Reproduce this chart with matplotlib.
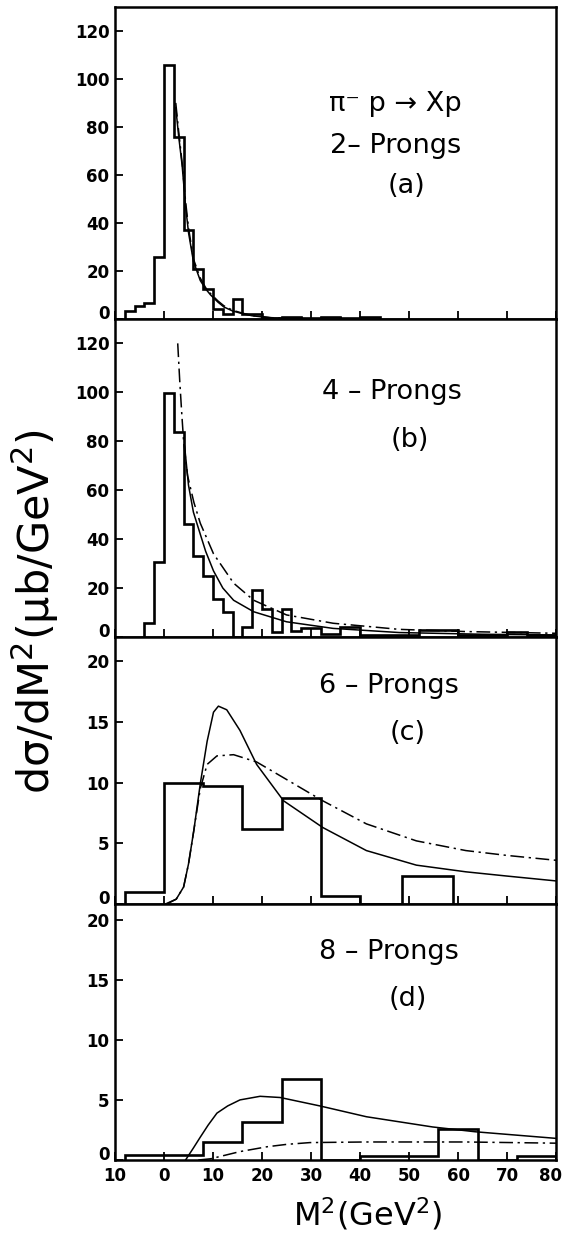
import numpy as np
import matplotlib
matplotlib.use("Agg")
import matplotlib.pyplot as plt
import matplotlib.transforms as mtransforms

# ---------------- data ----------------
# Panel (a): 2-prongs
a_edges = [-8, -6, -4, -2, 0, 2, 4, 6, 8, 10, 12, 14, 16, 18, 20, 22, 24, 26, 28,
           30, 32, 34, 36, 38, 40, 42, 44]
a_vals = [3.3, 5.4, 6.8, 26, 106, 76, 37, 21, 12.4, 4, 2.2, 8.5, 2.2, 2.2, 0.5,
          0.3, 0.8, 0.8, 0.3, 0.3, 0.8, 0.8, 0.2, 0.2, 0.8, 0.8]
a_solid_x = [2.4, 3.0, 3.7, 4.4, 5.0, 6.0, 7.4, 8.5, 9.5, 11.0, 12.2, 14.0, 16.0, 18.0, 22.0, 30.0]
a_solid_y = [88, 76, 64, 47, 36, 24, 16, 12.5, 10, 7, 5, 3.3, 2.2, 1.3, 0.4, 0.0]
a_dash_x = [2.4, 3.0, 3.7, 4.4, 5.0, 6.0, 7.4, 8.5, 9.5, 11.0, 12.2, 14.0, 16.0, 18.0, 22.0, 30.0]
a_dash_y = [90, 78, 65, 49, 38, 25, 17, 13, 10.5, 7.5, 5.5, 3.6, 2.4, 1.4, 0.5, 0.0]

# Panel (b): 4-prongs
b_edges = [-4, -2, 0, 2, 4, 6, 8, 10, 12, 14, 16, 18, 20, 22, 24, 26, 28, 30, 32,
           36, 40, 52, 60, 70, 74, 80]
b_vals = [5.9, 30.7, 99.7, 83.8, 46, 33, 25, 15.5, 10.3, 0, 4.2, 19.2, 11.3, 2.2,
          11.3, 2.6, 3.5, 3.5, 1.2, 4, 0.8, 2.9, 0.8, 2.2, 0.8]
b_solid_x = [4.2, 5.0, 6.0, 7.4, 8.5, 10.1, 12.0, 14.2, 18.3, 25.0, 34.5, 48.0, 65.0, 80.0]
b_solid_y = [78, 62, 51, 42, 35, 27, 20, 15, 10.3, 6.2, 3.5, 1.8, 1.1, 0.8]
b_dash_x = [2.8, 3.2, 3.6, 4.0, 4.8, 6.1, 7.4, 10.1, 14.2, 18.3, 25.0, 34.5, 48.0, 61.6, 80.0]
b_dash_y = [120, 105, 92, 80, 66, 55, 46.5, 34, 22, 15, 9, 5.6, 3.1, 2.2, 1.5]

# Panel (c): 6-prongs
c_edges = [-8, 0, 8, 16, 24, 32, 40, 48.5, 59]
c_vals = [1, 10, 9.7, 6.2, 8.7, 0.66, 0, 2.3]
c_solid_x = [0.6, 2.5, 4.0, 5.0, 6.1, 7.4, 8.8, 10.1, 11.1, 12.8, 15.5, 18.9, 24.4,
             32.4, 41.3, 51.5, 61.6, 70.0, 80.0]
c_solid_y = [0, 0.4, 1.4, 3.3, 6.1, 9.9, 13.4, 15.8, 16.3, 16.0, 14.3, 11.5, 8.5,
             6.3, 4.4, 3.2, 2.65, 2.3, 1.9]
c_dash_x = [0.3, 2.5, 4.0, 5.0, 6.1, 7.4, 8.8, 10.8, 14.2, 18.9, 24.4, 32.4, 41.3,
            51.5, 61.6, 70.0, 80.0]
c_dash_y = [0, 0.4, 1.4, 3.3, 6.1, 9.5, 11.5, 12.2, 12.3, 11.7, 10.4, 8.5, 6.6,
            5.2, 4.4, 4.0, 3.6]

# Panel (d): 8-prongs
d_edges = [-8, 0, 8, 16, 24, 32, 40, 48, 56, 64, 72, 80]
d_vals = [0.4, 0.4, 1.5, 3.2, 6.7, 0, 0.35, 0.35, 2.6, 0, 0.3]
d_solid_x = [4.4, 6.0, 7.4, 9.0, 10.8, 13.0, 15.5, 19.6, 23.7, 31.8, 41.3, 54.8, 63.5, 80.0]
d_solid_y = [0, 1.0, 1.9, 2.9, 3.9, 4.5, 5.0, 5.3, 5.2, 4.5, 3.6, 2.75, 2.35, 1.8]
d_dash_x = [7.0, 9.5, 12.0, 15.5, 21.0, 25.0, 29.8, 41.3, 61.6, 80.0]
d_dash_y = [0, 0.1, 0.35, 0.7, 1.1, 1.3, 1.45, 1.5, 1.5, 1.4]

x_ticks = [-10, 0, 10, 20, 30, 40, 50, 60, 70, 80]
x_tick_labels = ["10", "0", "10", "20", "30", "40", "50", "60", "70", "80"]
a_yticks = [0, 20, 40, 60, 80, 100, 120]
b_yticks = [0, 20, 40, 60, 80, 100, 120]
c_yticks = [0, 5, 10, 15, 20]
d_yticks = [0, 5, 10, 15, 20]

panel_titles = ["2\u2013 Prongs", "4 \u2013 Prongs", "6 \u2013 Prongs", "8 \u2013 Prongs"]
panel_tags = ["(a)", "(b)", "(c)", "(d)"]
reaction = "\u03c0\u207b p \u2192 Xp"

# ---------------- figure ----------------
plt.rcParams['font.family'] = ['DejaVu Sans']
fig = plt.figure(figsize=(5.64, 12.38), dpi=100)

left, width = 0.2039, 0.782
rects = [
    [left, 0.7424, width, 0.2520],
    [left, 0.4855, width, 0.2569],
    [left, 0.2698, width, 0.2157],
    [left, 0.0630, width, 0.2068],
]
ylims = [(0, 130), (0, 130), (0, 22), (0, 21.3)]
yticks = [a_yticks, b_yticks, c_yticks, d_yticks]
hists = [(a_edges, a_vals), (b_edges, b_vals), (c_edges, c_vals), (d_edges, d_vals)]
solids = [(a_solid_x, a_solid_y), (b_solid_x, b_solid_y), (c_solid_x, c_solid_y), (d_solid_x, d_solid_y)]
dashes = [(a_dash_x, a_dash_y), (b_dash_x, b_dash_y), (c_dash_x, c_dash_y), (d_dash_x, d_dash_y)]

title_pos = [(47.3, 72), (46.5, 100), (45.8, 18), (45.8, 17.3)]
tag_pos = [(49.4, 55.4), (50.1, 80.4), (49.7, 14.1), (49.7, 13.4)]
TXT = 19.5

up8 = mtransforms.ScaledTranslation(0, 7 / 100, fig.dpi_scale_trans)
left5 = mtransforms.ScaledTranslation(-6 / 100, 0, fig.dpi_scale_trans)

for i, r in enumerate(rects):
    ax = fig.add_axes(r)
    ax.set_xlim(-10, 80)
    ax.set_ylim(*ylims[i])
    e, v = hists[i]
    ax.stairs(v, e, color='black', linewidth=1.9, baseline=0)
    ax.plot(*solids[i], color='black', linewidth=1.1)
    ax.plot(*dashes[i], color='black', linewidth=1.1, linestyle=(0, (9, 3, 1.5, 3)))
    for s in ax.spines.values():
        s.set_linewidth(1.8)
    ax.set_xticks(x_ticks)
    ax.set_yticks(yticks[i])
    ax.tick_params(axis='both', direction='in', length=6, width=1.3)
    ax.tick_params(axis='y', labelsize=12, pad=4)
    ylabs = ax.get_yticklabels()
    for lab in ylabs:
        lab.set_fontweight('bold')
    ylabs[0].set_transform(ylabs[0].get_transform() + up8)
    if i < 3:
        ax.set_xticklabels([])
    else:
        ax.set_xticklabels(x_tick_labels, fontsize=12, fontweight='bold')
        ax.tick_params(axis='x', pad=5)
        xl = ax.get_xticklabels()
        xl[-1].set_transform(xl[-1].get_transform() + left5)
    tx, ty = title_pos[i]
    ax.text(tx, ty, panel_titles[i], fontsize=TXT, ha='center', va='center')
    gx, gy = tag_pos[i]
    ax.text(gx, gy, panel_tags[i], fontsize=TXT, ha='center', va='center')
    if i == 0:
        ax.text(47.3, 89.5, reaction, fontsize=TXT, ha='center', va='center')

fig.text(0.062, 0.506, "d\u03c3/dM$^2$(\u03bcb/GeV$^2$)", rotation=90, fontsize=31,
         ha='center', va='center')
fig.text(0.652, 0.019, "M$^2$(GeV$^2$)", fontsize=23, ha='center', va='center')

fig.savefig("out.png", dpi=100)
